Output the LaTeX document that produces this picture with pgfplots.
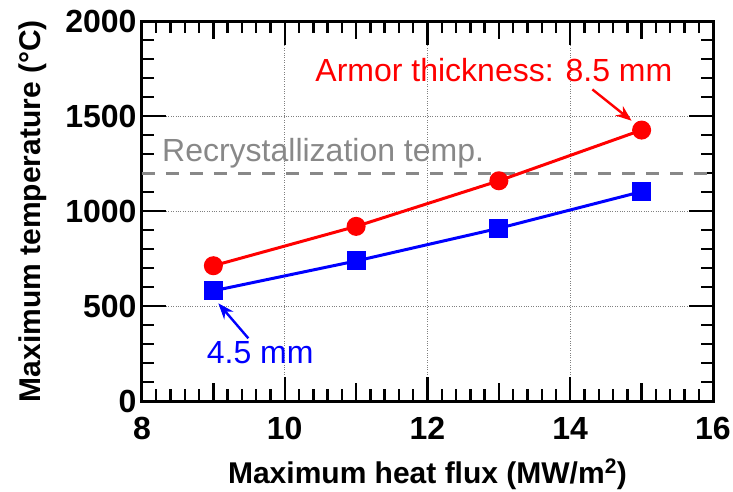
\documentclass[border=0pt]{standalone}
\usepackage{pgfplots}
\pgfplotsset{compat=1.18}
\usetikzlibrary{arrows.meta}
\usepackage{fontspec}
\setmainfont{Liberation Sans}
\definecolor{recgray}{RGB}{136,136,136}
\begin{document}
\begin{tikzpicture}
\path[use as bounding box] (-142pt,-90pt) rectangle (591pt,401pt);
\begin{axis}[
  scale only axis,
  width=571pt, height=380pt,
  xmin=8, xmax=16, ymin=0, ymax=2000,
  xtick={8,10,12,14,16},
  ytick={0,500,1000,1500,2000},
  minor x tick num=9,
  minor y tick num=4,
  tick align=inside,
  axis line style={line width=3pt},
  every tick/.style={black, line width=2.4pt},
  major tick length=24pt,
  minor tick length=12pt,
  extra x ticks={9,11,13,15},
  extra x tick labels={},
  extra x tick style={major tick length=18pt, grid=none},
  xmajorgrids, ymajorgrids,
  grid style={dotted, gray, line width=0.8pt},
  /pgf/number format/assume math mode=true,
  /pgf/number format/1000 sep={},
  tick label style={font=\fontsize{32}{38}\selectfont\bfseries},
  x tick label style={yshift=-13pt},
  y tick label style={xshift=-2pt},
  label style={font=\fontsize{30}{36}\selectfont\bfseries},
  xlabel={Maximum heat flux (MW/m\textsuperscript{2})},
  ylabel={Maximum temperature (°C)},
  xlabel style={at={(axis description cs:0.5,0)}, anchor=base, yshift=-82pt},
  ylabel style={at={(axis description cs:-0.191,0.5)}, anchor=center, rotate=0},
  clip=false,
]
\addplot[recgray, dash pattern=on 13pt off 11pt, line width=3pt] coordinates {(8,1200) (16,1200)};
\addplot[red, line width=3pt, mark=*, mark size=8pt, mark options={solid, fill=red}] coordinates {
(9,712) (11,919) (13,1159) (15,1426)};
\addplot[blue, line width=3pt, mark=square*, mark size=8pt, mark options={solid, fill=blue}] coordinates {
(9,580) (11,737) (13,909) (15,1102)};
\node[anchor=base, red, font=\fontsize{32}{38}\selectfont, inner sep=0pt] at (axis cs:12.93,1681) {Armor thickness: 8.5 mm};
\node[anchor=base west, recgray, font=\fontsize{32}{38}\selectfont, inner sep=0pt] at (axis cs:8.28,1260) {Recrystallization temp.};
\node[anchor=base west, blue, font=\fontsize{32}{38}\selectfont, inner sep=0pt] at (axis cs:8.906,198) {4.5 mm};
\draw[red, line width=2.4pt, -{Stealth[length=16pt,width=12pt]}] (axis cs:14.31,1640) -- (axis cs:14.86,1475);
\draw[blue, line width=2.4pt, -{Stealth[length=16pt,width=12pt]}] (axis cs:9.49,330) -- (axis cs:9.07,514);
\end{axis}
\end{tikzpicture}
\end{document}
